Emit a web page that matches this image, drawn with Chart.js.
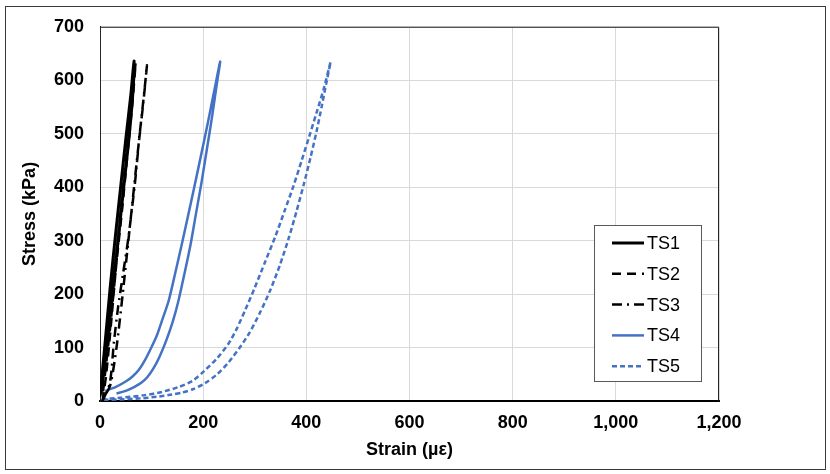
<!DOCTYPE html>
<html>
<head>
<meta charset="utf-8">
<script src="https://cdn.jsdelivr.net/npm/chart.js@4"></script>
<style>
  body { margin: 0; background: #fff; }
  canvas { display: block; }
</style>
</head>
<body>
<canvas id="stress-chart" width="830" height="474"></canvas>
<script>
const ts1Strain = [0, 10, 20, 30, 40, 50, 60, 66, 64, 56, 46, 35, 24, 13, 2];
const ts1Stress = [8, 110, 215, 310, 400, 490, 575, 636, 580, 490, 400, 300, 200, 100, 12];

const ts2Strain = [5, 12, 20, 30, 40, 50, 60, 69, 63, 53, 43, 31, 21, 12, 5];
const ts2Stress = [0, 50, 130, 240, 350, 450, 545, 632, 560, 460, 360, 250, 150, 70, 10];

const ts3Strain = [5, 19, 27, 35, 45, 55, 68, 76, 84, 91, 86, 77, 66, 55, 44, 32, 20, 6];
const ts3Stress = [0, 33, 110, 175, 240, 305, 410, 490, 558, 628, 580, 500, 400, 300, 200, 100, 30, 4];

const ts4Strain = [10, 30, 49, 62, 75, 88, 100, 110, 120, 133, 146, 159, 172, 185, 197, 209, 221, 233,
                   226, 217, 207, 197, 186, 175, 163, 152, 140, 128, 115, 103, 92, 80, 66, 50, 32];
const ts4Stress = [19, 26, 36, 45, 58, 78, 101, 122, 150, 187, 240, 295, 352, 410, 465, 520, 578, 635,
                   590, 530, 470, 410, 350, 290, 235, 187, 145, 112, 82, 60, 45, 34, 26, 19, 14];

const ts5Strain = [3, 40, 87, 120, 152, 180, 203, 227, 249, 265, 281, 300, 320, 340, 358, 375, 391, 406, 420, 434, 447,
                   439, 430, 420, 408, 395, 381, 366, 349, 330, 310, 290, 271, 249, 227, 203, 180, 160, 139, 110, 80, 40, 3];
const ts5Stress = [3, 6, 11, 17, 26, 38, 57, 80, 107, 135, 169, 212, 260, 308, 356, 402, 450, 496, 540, 585, 634,
                   596, 552, 505, 455, 405, 355, 305, 255, 207, 165, 128, 100, 72, 50, 33, 22, 16, 12, 8, 5, 3, 2];

const seriesNames = ['TS1', 'TS2', 'TS3', 'TS4', 'TS5'];
const xTicks = { min: 0, max: 1200, step: 200 };
const yTicks = { min: 0, max: 700, step: 100 };

const BLUE = '#4472C4';
const FONT = "'Liberation Sans', Arial, sans-serif";

function pts(xs, ys) {
    return xs.map((x, i) => ({ x: x, y: ys[i] }));
}

// legend box sits inside the plot, lower right
const boxLegend = {
    id: 'boxLegend',
    afterDraw(chart) {
        const ctx = chart.ctx;
        const left = 594, top = 225, w = 107, h = 156;
        ctx.save();
        ctx.fillStyle = '#fff';
        ctx.fillRect(left, top, w, h);
        ctx.strokeStyle = '#595959';
        ctx.lineWidth = 1;
        ctx.strokeRect(left + 0.5, top + 0.5, w, h);
        ctx.font = '18px ' + FONT;
        ctx.textBaseline = 'middle';
        ctx.fillStyle = '#000';
        chart.data.datasets.forEach((ds, i) => {
            const y = top + 18 + i * 30.8;
            ctx.beginPath();
            ctx.setLineDash(ds.borderDash || []);
            ctx.strokeStyle = ds.borderColor;
            ctx.lineWidth = ds.borderWidth;
            ctx.moveTo(612, y);
            ctx.lineTo(644, y);
            ctx.stroke();
            ctx.setLineDash([]);
            ctx.fillText(ds.label, 647, y + 1);
        });
        ctx.restore();
    }
};

const frames = {
    id: 'frames',
    beforeDraw(chart) {
        const ctx = chart.ctx;
        ctx.save();
        ctx.fillStyle = '#fff';
        ctx.fillRect(0, 0, chart.width, chart.height);
        ctx.strokeStyle = '#3a3a3a';
        ctx.lineWidth = 1;
        ctx.strokeRect(5.5, 6.5, 820, 463);
        ctx.restore();
    },
    afterDatasetsDraw(chart) {
        const a = chart.chartArea;
        const ctx = chart.ctx;
        ctx.save();
        ctx.strokeStyle = '#262626';
        ctx.lineWidth = 1;
        ctx.beginPath();
        ctx.moveTo(a.left, a.top + 0.5);
        ctx.lineTo(a.right - 0.5, a.top + 0.5);
        ctx.lineTo(a.right - 0.5, a.bottom);
        ctx.stroke();
        ctx.restore();
    }
};

const ctx = document.getElementById('stress-chart').getContext('2d');
const chart = new Chart(ctx, {
    type: 'scatter',
    data: {
        datasets: [{
            label: seriesNames[0],
            data: pts(ts1Strain, ts1Stress),
            borderColor: '#000',
            borderWidth: 3
        }, {
            label: seriesNames[1],
            data: pts(ts2Strain, ts2Stress),
            borderColor: '#000',
            borderWidth: 2.5,
            borderDash: [9, 6]
        }, {
            label: seriesNames[2],
            data: pts(ts3Strain, ts3Stress),
            borderColor: '#000',
            borderWidth: 2.5,
            borderDash: [10, 5, 2, 5]
        }, {
            label: seriesNames[3],
            data: pts(ts4Strain, ts4Stress),
            borderColor: BLUE,
            borderWidth: 2.5
        }, {
            label: seriesNames[4],
            data: pts(ts5Strain, ts5Stress),
            borderColor: BLUE,
            borderWidth: 2.5,
            borderDash: [5, 3]
        }]
    },
    options: {
        responsive: false,
        animation: false,
        showLine: true,
        elements: {
            point: { radius: 0 },
            line: { tension: 0.25, fill: false }
        },
        layout: { padding: { left: 15, top: 24, right: 111, bottom: 9 } },
        plugins: {
            legend: { display: false },
            tooltip: { enabled: false }
        },
        scales: {
            x: {
                type: 'linear',
                min: xTicks.min,
                max: xTicks.max,
                afterFit(scale) { scale.height = 64; },
                ticks: {
                    stepSize: xTicks.step,
                    padding: 11,
                    color: '#000',
                    font: { family: FONT, size: 18, weight: 'bold' }
                },
                grid: { color: '#d9d9d9', drawTicks: false },
                border: { color: '#000', width: 2 },
                title: {
                    display: true,
                    text: 'Strain (µε)',
                    color: '#000',
                    font: { family: FONT, size: 18, weight: 'bold' }
                }
            },
            y: {
                min: yTicks.min,
                max: yTicks.max,
                afterFit(scale) { scale.width = 85; },
                ticks: {
                    stepSize: yTicks.step,
                    padding: 16,
                    color: '#000',
                    font: { family: FONT, size: 18, weight: 'bold' }
                },
                grid: { color: '#d9d9d9', drawTicks: false },
                border: { color: '#262626', width: 1 },
                title: {
                    display: true,
                    text: 'Stress (kPa)',
                    color: '#000',
                    font: { family: FONT, size: 18, weight: 'bold' }
                }
            }
        }
    },
    plugins: [frames, boxLegend]
});
</script>
</body>
</html>
